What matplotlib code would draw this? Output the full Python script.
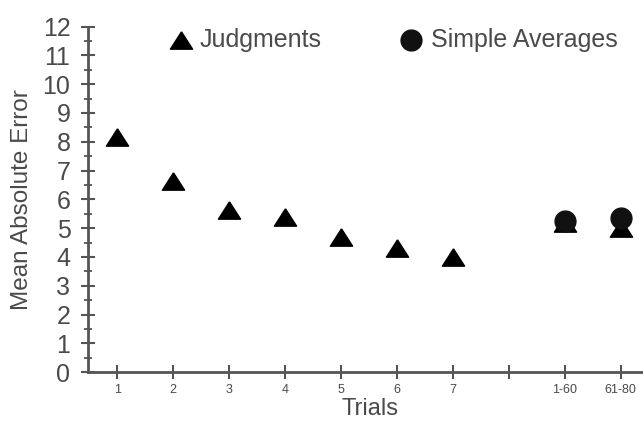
import matplotlib
matplotlib.use("Agg")
import matplotlib.pyplot as plt
from matplotlib.ticker import MultipleLocator

plt.rcParams['font.family'] = ['Liberation Sans', 'DejaVu Sans']

categories = ["1", "2", "3", "4", "5", "6", "7", "", "1-60", "61-80"]
judgment_positions = [1, 2, 3, 4, 5, 6, 7, 9, 10]
judgment_values = [8.17, 6.63, 5.62, 5.38, 4.68, 4.30, 3.99, 5.17, 5.0]
average_positions = [9, 10]
average_values = [5.24, 5.34]

TXT = "#4a4a4a"
AX = "#555555"
TRI = [(0, 0.78), (-1, -0.78), (1, -0.78), (0, 0.78)]

fig = plt.figure(figsize=(6.43, 4.21), dpi=100)
ax = fig.add_axes([0.137, 0.116, 0.863, 0.821])

ax.plot(judgment_positions, judgment_values, linestyle="none", marker=TRI,
        markersize=16, color="black", zorder=3, clip_on=False)
ax.plot(average_positions, average_values, linestyle="none", marker="o",
        markersize=15, color="#111111", zorder=4, clip_on=False)

ax.set_xlim(0.48, 10.4)
ax.set_ylim(0, 12)

for s in ["top", "right"]:
    ax.spines[s].set_visible(False)
for s in ["left", "bottom"]:
    ax.spines[s].set_color(AX)
    ax.spines[s].set_linewidth(2)

ax.set_xticks(range(1, len(categories) + 1))
ax.set_xticklabels(categories, fontsize=9, color=TXT)
ax.set_yticks(range(0, 13))
ax.yaxis.set_minor_locator(MultipleLocator(0.5))
ax.tick_params(axis="y", which="major", direction="inout", length=9.4, width=1.5,
               colors=AX, labelcolor=TXT, labelsize=18, pad=8)
ax.tick_params(axis="y", which="minor", direction="inout", length=5.8, width=1.3,
               colors=AX)
ax.tick_params(axis="x", which="major", direction="inout", length=9.4, width=1.5,
               colors=AX, labelcolor=TXT, pad=4)

ax.set_ylabel("Mean Absolute Error", fontsize=17.5, color=TXT)
ax.yaxis.label.set_va("center")
ax.yaxis.set_label_coords(-0.119, 0.5)
ax.set_xlabel("Trials", fontsize=17, color=TXT)
ax.xaxis.label.set_va("top")
ax.xaxis.set_label_coords(0.508, -0.076)

# legend drawn as marker + text items at top
ax.plot([2.14], [11.53], marker=TRI, markersize=16, color="black", linestyle="none")
ax.text(2.48, 11.53, "Judgments", fontsize=18, color=TXT, va="center", ha="left")
ax.plot([6.25], [11.53], marker="o", markersize=15, color="#111111", linestyle="none")
ax.text(6.61, 11.53, "Simple Averages", fontsize=18, color=TXT, va="center", ha="left")

fig.savefig("out.png", dpi=100)
